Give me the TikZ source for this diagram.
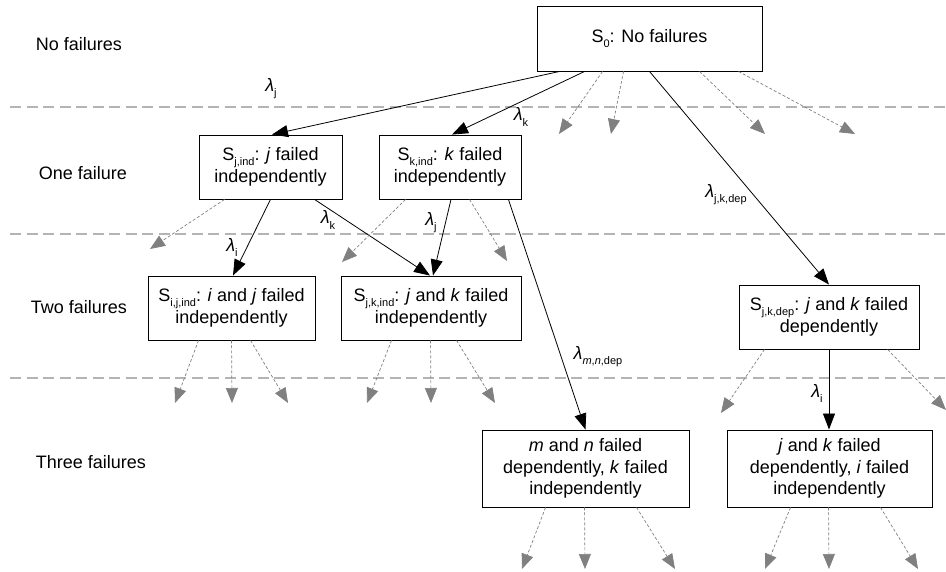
\documentclass[tikz,border=0pt]{standalone}
\usepackage{fontspec}
\setmainfont{Liberation Sans}
\usetikzlibrary{arrows.meta}
\newcommand{\mysub}[1]{\raisebox{-0.28em}{\fontsize{11}{11}\selectfont #1}}
\newcommand{\lam}{\textit{λ}}
\definecolor{levelgray}{HTML}{B4B4B4}
\definecolor{othergray}{HTML}{808080}

\begin{document}
\begin{tikzpicture}[x=1pt, y=-1pt,
  font=\fontsize{18}{21.5}\selectfont,
  state/.style={draw, line width=0.9pt, align=center, inner sep=0pt},
  rate/.style={-{Triangle[length=16pt,width=12pt]}, line width=0.8pt},
  other/.style={-{Triangle[length=15pt,width=12pt]}, draw=othergray, line width=0.7pt,
                dash pattern=on 3pt off 2pt},
  level/.style={draw=levelgray, line width=1.3pt, dash pattern=on 11pt off 5.5pt}]
\useasboundingbox (0,0) rectangle (946,572);

% level separators
\foreach \y in {107,234,378} \draw[level] (10,\y) -- (946,\y);

% level titles
\node (t0) at (79,44) {No failures};
\node (t1) at (83,173) {One failure};
\node (t2) at (79,307) {Two failures};
\node (t3) at (91,462) {Three failures};

% states
\node[state, minimum width=225pt, minimum height=65pt] (s0) at (649.5,38.5)
  {S\mysub{0}: No failures};
\node[state, minimum width=143pt, minimum height=64pt] (sj) at (270.5,167)
  {S\mysub{j,ind}: \textit{j} failed\\independently};
\node[state, minimum width=142pt, minimum height=64pt] (sk) at (450,167)
  {S\mysub{k,ind}: \textit{k} failed\\independently};
\node[state, minimum width=167pt, minimum height=64pt] (sij) at (231.5,308)
  {S\mysub{i,j,ind}: \textit{i} and \textit{j} failed\\independently};
\node[state, minimum width=180pt, minimum height=64pt] (sjk) at (431,308)
  {S\mysub{j,k,ind}: \textit{j} and \textit{k} failed\\independently};
\node[state, minimum width=180pt, minimum height=64pt] (sdep) at (829,317)
  {S\mysub{j,k,dep}: \textit{j} and \textit{k} failed\\dependently};
\node[state, minimum width=207pt, minimum height=77pt] (smn) at (585.5,468.5)
  {\textit{m} and \textit{n} failed\\dependently, \textit{k} failed\\independently};
\node[state, minimum width=205pt, minimum height=77pt] (sdi) at (829.5,468.5)
  {\textit{j} and \textit{k} failed\\dependently, \textit{i} failed\\independently};

% transitions with their rates
\draw[rate] ([xshift=23pt]s0.south west) -- ([xshift=1.5pt]sj.north);
\draw[rate] ([xshift=48pt]s0.south west) -- ([xshift=2pt]sk.north);
\draw[rate] (s0.south) -- (sdep.north);
\draw[rate] (sj.south) -- ([xshift=1.5pt]sij.north);
\draw[rate] ([xshift=116pt]sj.south west) -- ([xshift=-1pt]sjk.north);
\draw[rate] ([xshift=1pt]sk.south) -- ([xshift=2pt]sjk.north);
\draw[rate] ([xshift=-13pt]sk.south east) -- (smn.north);
\draw[rate] (sdep.south) -- (sdep.south |- sdi.north);

\node (r1) at (271,89) {\lam\mysub{j}};
\node (r2) at (521,117) {\lam\mysub{k}};
\node (r3) at (726,195) {\lam\mysub{j,k,dep}};
\node (r4) at (232,247) {\lam\mysub{i}};
\node (r5) at (328,220) {\lam\mysub{k}};
\node (r6) at (431,223) {\lam\mysub{j}};
\node (r7) at (598,357) {\lam\mysub{\textit{m},\textit{n},dep}};
\node (r8) at (817,393) {\lam\mysub{i}};

% remaining transitions, not followed further
\foreach \src/\dx/\ex/\ey [count=\n] in {
    s0/66/559/134, s0/87/611/134, s0/163/765/134, s0/202/855/134,
    sj/26/150/249,
    sk/27/342/262, sk/91/507/261,
    sij/51/175/403, sij/84/232/403, sij/103/288/403,
    sjk/51/367/403, sjk/90/431/403, sjk/116/495/403,
    sdep/26/721/413, sdep/149/946/410,
    smn/64/522/569, smn/103/585/569, smn/155/675/569,
    sdi/64/765/569, sdi/102/829/569, sdi/154/918/569} {
  \coordinate (x\n) at (\ex,\ey);
  \draw[other] ([xshift=\dx pt]\src.south west) -- (x\n);
}
\end{tikzpicture}
\end{document}
